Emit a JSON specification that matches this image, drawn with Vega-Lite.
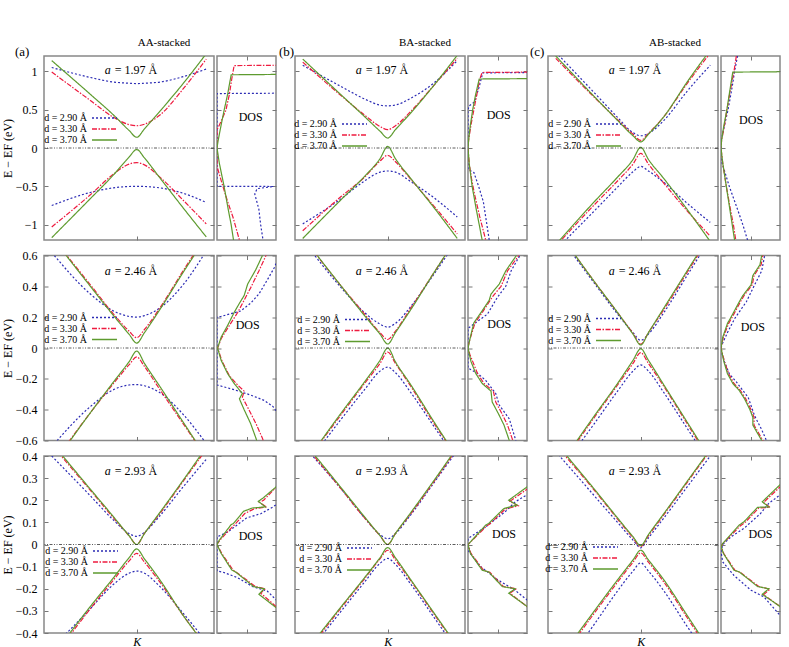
{
"$schema":"https://vega.github.io/schema/vega-lite/v6.json",
"padding":{"left":0,"top":36,"right":5,"bottom":3},
"config":{
 "view":{"stroke":"#888888","strokeWidth":1.5},
 "axis":{"domain":false,"grid":false,"tickSize":-4,"tickColor":"#777777","tickWidth":1,"labelPadding":11,"labelFont":"Liberation Serif","labelFontSize":12,"labelColor":"#000000","titleFont":"Liberation Serif","titleFontSize":12,"titleFontWeight":"normal","titleColor":"#000000"},
 "axisY":{"titlePadding":1},
 "title":{"font":"Liberation Serif","fontWeight":"normal","color":"#000000","fontSize":11},
 "text":{"font":"Liberation Serif","fontSize":12,"color":"#000000"},
 "legend":{"orient":"none","title":null,"symbolType":"M-2.5,0H2.5","symbolSize":100,"symbolStrokeWidth":1.3,"labelAlign":"right","labelOffset":-23.5,"labelFont":"Liberation Serif","labelFontSize":10,"labelColor":"#000000","rowPadding":-3,"padding":0}
},
"datasets":{
"bA1":[
{"d":"2.90","k":-1.1,"u":1.05,"l":-0.75},{"d":"2.90","k":-0.6,"u":0.92,"l":-0.58},{"d":"2.90","k":-0.3,"u":0.86,"l":-0.52},{"d":"2.90","k":-0.1,"u":0.845,"l":-0.502},{"d":"2.90","k":0,"u":0.84,"l":-0.5},{"d":"2.90","k":0.1,"u":0.845,"l":-0.502},{"d":"2.90","k":0.3,"u":0.86,"l":-0.52},{"d":"2.90","k":0.6,"u":0.93,"l":-0.59},{"d":"2.90","k":0.9,"u":1.03,"l":-0.71},
{"d":"3.30","k":-1.1,"u":0.99,"l":-1.03},{"d":"3.30","k":-0.6,"u":0.62,"l":-0.61},{"d":"3.30","k":-0.3,"u":0.4,"l":-0.34},{"d":"3.30","k":-0.1,"u":0.305,"l":-0.21},{"d":"3.30","k":0,"u":0.29,"l":-0.19},{"d":"3.30","k":0.1,"u":0.31,"l":-0.22},{"d":"3.30","k":0.3,"u":0.43,"l":-0.38},{"d":"3.30","k":0.6,"u":0.77,"l":-0.68},{"d":"3.30","k":0.9,"u":1.16,"l":-0.99},
{"d":"3.70","k":-1.1,"u":1.14,"l":-1.17},{"d":"3.70","k":-0.6,"u":0.7,"l":-0.66},{"d":"3.70","k":-0.3,"u":0.43,"l":-0.35},{"d":"3.70","k":-0.1,"u":0.23,"l":-0.12},{"d":"3.70","k":0,"u":0.14,"l":-0.02},{"d":"3.70","k":0.1,"u":0.25,"l":-0.13},{"d":"3.70","k":0.3,"u":0.48,"l":-0.39},{"d":"3.70","k":0.6,"u":0.84,"l":-0.78},{"d":"3.70","k":0.9,"u":1.23,"l":-1.16}
],
"bB1":[
{"d":"2.90","k":-1.1,"u":1.08,"l":-0.99},{"d":"2.90","k":-0.6,"u":0.8,"l":-0.66},{"d":"2.90","k":-0.3,"u":0.64,"l":-0.43},{"d":"2.90","k":-0.1,"u":0.56,"l":-0.315},{"d":"2.90","k":0,"u":0.55,"l":-0.3},{"d":"2.90","k":0.1,"u":0.56,"l":-0.315},{"d":"2.90","k":0.3,"u":0.65,"l":-0.44},{"d":"2.90","k":0.6,"u":0.85,"l":-0.65},{"d":"2.90","k":0.9,"u":1.14,"l":-0.9},
{"d":"3.30","k":-1.1,"u":1.12,"l":-1.08},{"d":"3.30","k":-0.6,"u":0.68,"l":-0.63},{"d":"3.30","k":-0.3,"u":0.43,"l":-0.38},{"d":"3.30","k":-0.1,"u":0.28,"l":-0.17},{"d":"3.30","k":0,"u":0.24,"l":-0.095},{"d":"3.30","k":0.1,"u":0.29,"l":-0.18},{"d":"3.30","k":0.3,"u":0.48,"l":-0.41},{"d":"3.30","k":0.6,"u":0.82,"l":-0.76},{"d":"3.30","k":0.9,"u":1.17,"l":-1.12},
{"d":"3.70","k":-1.1,"u":1.16,"l":-1.18},{"d":"3.70","k":-0.6,"u":0.69,"l":-0.67},{"d":"3.70","k":-0.3,"u":0.41,"l":-0.37},{"d":"3.70","k":-0.1,"u":0.22,"l":-0.14},{"d":"3.70","k":0,"u":0.13,"l":0.02},{"d":"3.70","k":0.1,"u":0.24,"l":-0.14},{"d":"3.70","k":0.3,"u":0.46,"l":-0.4},{"d":"3.70","k":0.6,"u":0.82,"l":-0.78},{"d":"3.70","k":0.9,"u":1.21,"l":-1.18}
],
"bC1":[
{"d":"2.90","k":-1.1,"u":1.25,"l":-1.33},{"d":"2.90","k":-0.6,"u":0.72,"l":-0.82},{"d":"2.90","k":-0.3,"u":0.4,"l":-0.51},{"d":"2.90","k":-0.1,"u":0.2,"l":-0.31},{"d":"2.90","k":0,"u":0.16,"l":-0.24},{"d":"2.90","k":0.1,"u":0.19,"l":-0.3},{"d":"2.90","k":0.3,"u":0.36,"l":-0.45},{"d":"2.90","k":0.6,"u":0.74,"l":-0.72},{"d":"2.90","k":0.9,"u":1.08,"l":-0.97},
{"d":"3.30","k":-1.1,"u":1.17,"l":-1.28},{"d":"3.30","k":-0.6,"u":0.66,"l":-0.74},{"d":"3.30","k":-0.3,"u":0.37,"l":-0.43},{"d":"3.30","k":-0.1,"u":0.18,"l":-0.21},{"d":"3.30","k":0,"u":0.1,"l":-0.07},{"d":"3.30","k":0.1,"u":0.19,"l":-0.21},{"d":"3.30","k":0.3,"u":0.41,"l":-0.46},{"d":"3.30","k":0.6,"u":0.84,"l":-0.82},{"d":"3.30","k":0.9,"u":1.24,"l":-1.15},
{"d":"3.70","k":-1.1,"u":1.2,"l":-1.26},{"d":"3.70","k":-0.6,"u":0.67,"l":-0.7},{"d":"3.70","k":-0.3,"u":0.36,"l":-0.38},{"d":"3.70","k":-0.1,"u":0.16,"l":-0.15},{"d":"3.70","k":0,"u":0.08,"l":0.01},{"d":"3.70","k":0.1,"u":0.18,"l":-0.15},{"d":"3.70","k":0.3,"u":0.41,"l":-0.4},{"d":"3.70","k":0.6,"u":0.86,"l":-0.8},{"d":"3.70","k":0.9,"u":1.28,"l":-1.22}
],
"bA2":[
{"d":"2.90","k":-1.1,"u":0.62,"l":-0.64},{"d":"2.90","k":-0.6,"u":0.35,"l":-0.38},{"d":"2.90","k":-0.3,"u":0.24,"l":-0.27},{"d":"2.90","k":-0.1,"u":0.205,"l":-0.24},{"d":"2.90","k":0,"u":0.2,"l":-0.237},{"d":"2.90","k":0.1,"u":0.21,"l":-0.245},{"d":"2.90","k":0.3,"u":0.26,"l":-0.29},{"d":"2.90","k":0.6,"u":0.41,"l":-0.43},{"d":"2.90","k":0.9,"u":0.63,"l":-0.62},
{"d":"3.30","k":-1.1,"u":0.72,"l":-0.76},{"d":"3.30","k":-0.6,"u":0.41,"l":-0.42},{"d":"3.30","k":-0.3,"u":0.22,"l":-0.23},{"d":"3.30","k":-0.1,"u":0.11,"l":-0.11},{"d":"3.30","k":0,"u":0.067,"l":-0.058},{"d":"3.30","k":0.1,"u":0.12,"l":-0.12},{"d":"3.30","k":0.3,"u":0.26,"l":-0.27},{"d":"3.30","k":0.6,"u":0.5,"l":-0.49},{"d":"3.30","k":0.9,"u":0.73,"l":-0.71},
{"d":"3.70","k":-1.1,"u":0.72,"l":-0.77},{"d":"3.70","k":-0.6,"u":0.4,"l":-0.42},{"d":"3.70","k":-0.3,"u":0.21,"l":-0.22},{"d":"3.70","k":-0.1,"u":0.09,"l":-0.09},{"d":"3.70","k":0,"u":0.032,"l":-0.02},{"d":"3.70","k":0.1,"u":0.1,"l":-0.1},{"d":"3.70","k":0.3,"u":0.25,"l":-0.25},{"d":"3.70","k":0.6,"u":0.49,"l":-0.48},{"d":"3.70","k":0.9,"u":0.72,"l":-0.71}
],
"bB2":[
{"d":"2.90","k":-1.1,"u":0.7,"l":-0.79},{"d":"2.90","k":-0.6,"u":0.39,"l":-0.46},{"d":"2.90","k":-0.3,"u":0.23,"l":-0.27},{"d":"2.90","k":-0.1,"u":0.155,"l":-0.15},{"d":"2.90","k":0,"u":0.135,"l":-0.124},{"d":"2.90","k":0.1,"u":0.16,"l":-0.16},{"d":"2.90","k":0.3,"u":0.27,"l":-0.29},{"d":"2.90","k":0.6,"u":0.48,"l":-0.51},{"d":"2.90","k":0.9,"u":0.7,"l":-0.73},
{"d":"3.30","k":-1.1,"u":0.72,"l":-0.77},{"d":"3.30","k":-0.6,"u":0.4,"l":-0.43},{"d":"3.30","k":-0.3,"u":0.22,"l":-0.23},{"d":"3.30","k":-0.1,"u":0.1,"l":-0.1},{"d":"3.30","k":0,"u":0.055,"l":-0.026},{"d":"3.30","k":0.1,"u":0.11,"l":-0.1},{"d":"3.30","k":0.3,"u":0.26,"l":-0.25},{"d":"3.30","k":0.6,"u":0.49,"l":-0.49},{"d":"3.30","k":0.9,"u":0.72,"l":-0.71},
{"d":"3.70","k":-1.1,"u":0.72,"l":-0.77},{"d":"3.70","k":-0.6,"u":0.4,"l":-0.42},{"d":"3.70","k":-0.3,"u":0.21,"l":-0.22},{"d":"3.70","k":-0.1,"u":0.09,"l":-0.08},{"d":"3.70","k":0,"u":0.026,"l":0},{"d":"3.70","k":0.1,"u":0.1,"l":-0.09},{"d":"3.70","k":0.3,"u":0.25,"l":-0.24},{"d":"3.70","k":0.6,"u":0.49,"l":-0.48},{"d":"3.70","k":0.9,"u":0.72,"l":-0.71}
],
"bC2":[
{"d":"2.90","k":-1.1,"u":0.76,"l":-0.83},{"d":"2.90","k":-0.6,"u":0.42,"l":-0.49},{"d":"2.90","k":-0.3,"u":0.22,"l":-0.28},{"d":"2.90","k":-0.1,"u":0.1,"l":-0.15},{"d":"2.90","k":0,"u":0.05,"l":-0.11},{"d":"2.90","k":0.1,"u":0.09,"l":-0.15},{"d":"2.90","k":0.3,"u":0.23,"l":-0.29},{"d":"2.90","k":0.6,"u":0.47,"l":-0.52},{"d":"2.90","k":0.9,"u":0.71,"l":-0.75},
{"d":"3.30","k":-1.1,"u":0.78,"l":-0.81},{"d":"3.30","k":-0.6,"u":0.43,"l":-0.45},{"d":"3.30","k":-0.3,"u":0.23,"l":-0.24},{"d":"3.30","k":-0.1,"u":0.095,"l":-0.1},{"d":"3.30","k":0,"u":0.025,"l":-0.03},{"d":"3.30","k":0.1,"u":0.1,"l":-0.1},{"d":"3.30","k":0.3,"u":0.25,"l":-0.25},{"d":"3.30","k":0.6,"u":0.49,"l":-0.49},{"d":"3.30","k":0.9,"u":0.73,"l":-0.73},
{"d":"3.70","k":-1.1,"u":0.78,"l":-0.8},{"d":"3.70","k":-0.6,"u":0.43,"l":-0.44},{"d":"3.70","k":-0.3,"u":0.23,"l":-0.23},{"d":"3.70","k":-0.1,"u":0.09,"l":-0.08},{"d":"3.70","k":0,"u":0.02,"l":-0.005},{"d":"3.70","k":0.1,"u":0.1,"l":-0.08},{"d":"3.70","k":0.3,"u":0.26,"l":-0.24},{"d":"3.70","k":0.6,"u":0.5,"l":-0.48},{"d":"3.70","k":0.9,"u":0.74,"l":-0.72}
],
"bA3":[
{"d":"2.90","k":-1.1,"u":0.4,"l":-0.47},{"d":"2.90","k":-0.6,"u":0.22,"l":-0.29},{"d":"2.90","k":-0.3,"u":0.11,"l":-0.18},{"d":"2.90","k":-0.1,"u":0.05,"l":-0.13},{"d":"2.90","k":0,"u":0.037,"l":-0.12},{"d":"2.90","k":0.1,"u":0.055,"l":-0.13},{"d":"2.90","k":0.3,"u":0.13,"l":-0.19},{"d":"2.90","k":0.6,"u":0.26,"l":-0.31},{"d":"2.90","k":0.9,"u":0.385,"l":-0.44},
{"d":"3.30","k":-1.1,"u":0.45,"l":-0.52},{"d":"3.30","k":-0.6,"u":0.245,"l":-0.29},{"d":"3.30","k":-0.3,"u":0.12,"l":-0.16},{"d":"3.30","k":-0.1,"u":0.04,"l":-0.075},{"d":"3.30","k":0,"u":0,"l":-0.04},{"d":"3.30","k":0.1,"u":0.05,"l":-0.08},{"d":"3.30","k":0.3,"u":0.14,"l":-0.17},{"d":"3.30","k":0.6,"u":0.285,"l":-0.32},{"d":"3.30","k":0.9,"u":0.43,"l":-0.46},
{"d":"3.70","k":-1.1,"u":0.46,"l":-0.51},{"d":"3.70","k":-0.6,"u":0.25,"l":-0.28},{"d":"3.70","k":-0.3,"u":0.125,"l":-0.15},{"d":"3.70","k":-0.1,"u":0.04,"l":-0.06},{"d":"3.70","k":0,"u":0,"l":-0.02},{"d":"3.70","k":0.1,"u":0.05,"l":-0.065},{"d":"3.70","k":0.3,"u":0.145,"l":-0.16},{"d":"3.70","k":0.6,"u":0.29,"l":-0.32},{"d":"3.70","k":0.9,"u":0.44,"l":-0.46}
],
"bB3":[
{"d":"2.90","k":-1.1,"u":0.45,"l":-0.52},{"d":"2.90","k":-0.6,"u":0.25,"l":-0.3},{"d":"2.90","k":-0.3,"u":0.12,"l":-0.17},{"d":"2.90","k":-0.1,"u":0.045,"l":-0.085},{"d":"2.90","k":0,"u":0.026,"l":-0.063},{"d":"2.90","k":0.1,"u":0.05,"l":-0.09},{"d":"2.90","k":0.3,"u":0.135,"l":-0.18},{"d":"2.90","k":0.6,"u":0.28,"l":-0.33},{"d":"2.90","k":0.9,"u":0.425,"l":-0.48},
{"d":"3.30","k":-1.1,"u":0.46,"l":-0.51},{"d":"3.30","k":-0.6,"u":0.25,"l":-0.285},{"d":"3.30","k":-0.3,"u":0.12,"l":-0.155},{"d":"3.30","k":-0.1,"u":0.04,"l":-0.065},{"d":"3.30","k":0,"u":0,"l":-0.026},{"d":"3.30","k":0.1,"u":0.05,"l":-0.07},{"d":"3.30","k":0.3,"u":0.14,"l":-0.165},{"d":"3.30","k":0.6,"u":0.285,"l":-0.315},{"d":"3.30","k":0.9,"u":0.435,"l":-0.465},
{"d":"3.70","k":-1.1,"u":0.47,"l":-0.5},{"d":"3.70","k":-0.6,"u":0.255,"l":-0.28},{"d":"3.70","k":-0.3,"u":0.125,"l":-0.15},{"d":"3.70","k":-0.1,"u":0.04,"l":-0.06},{"d":"3.70","k":0,"u":0,"l":-0.014},{"d":"3.70","k":0.1,"u":0.05,"l":-0.06},{"d":"3.70","k":0.3,"u":0.145,"l":-0.16},{"d":"3.70","k":0.6,"u":0.29,"l":-0.31},{"d":"3.70","k":0.9,"u":0.44,"l":-0.46}
],
"bC3":[
{"d":"2.90","k":-1.1,"u":0.42,"l":-0.6},{"d":"2.90","k":-0.6,"u":0.22,"l":-0.36},{"d":"2.90","k":-0.3,"u":0.1,"l":-0.21},{"d":"2.90","k":-0.1,"u":0.02,"l":-0.12},{"d":"2.90","k":0,"u":-0.015,"l":-0.083},{"d":"2.90","k":0.1,"u":0.03,"l":-0.12},{"d":"2.90","k":0.3,"u":0.12,"l":-0.21},{"d":"2.90","k":0.6,"u":0.26,"l":-0.37},{"d":"2.90","k":0.9,"u":0.4,"l":-0.52},
{"d":"3.30","k":-1.1,"u":0.45,"l":-0.55},{"d":"3.30","k":-0.6,"u":0.245,"l":-0.31},{"d":"3.30","k":-0.3,"u":0.115,"l":-0.17},{"d":"3.30","k":-0.1,"u":0.03,"l":-0.08},{"d":"3.30","k":0,"u":-0.01,"l":-0.038},{"d":"3.30","k":0.1,"u":0.04,"l":-0.08},{"d":"3.30","k":0.3,"u":0.135,"l":-0.17},{"d":"3.30","k":0.6,"u":0.28,"l":-0.33},{"d":"3.30","k":0.9,"u":0.425,"l":-0.49},
{"d":"3.70","k":-1.1,"u":0.46,"l":-0.54},{"d":"3.70","k":-0.6,"u":0.25,"l":-0.3},{"d":"3.70","k":-0.3,"u":0.12,"l":-0.16},{"d":"3.70","k":-0.1,"u":0.035,"l":-0.07},{"d":"3.70","k":0,"u":-0.005,"l":-0.026},{"d":"3.70","k":0.1,"u":0.045,"l":-0.07},{"d":"3.70","k":0.3,"u":0.14,"l":-0.16},{"d":"3.70","k":0.6,"u":0.285,"l":-0.32},{"d":"3.70","k":0.9,"u":0.43,"l":-0.48}
],
"dA1":[
{"d":"2.90","E":1.2,"x":1.08},{"d":"2.90","E":0.715,"x":1.08},{"d":"2.90","E":0.71,"x":0},{"d":"2.90","E":-0.5,"x":0},{"d":"2.90","E":-0.502,"x":0.96},{"d":"2.90","E":-0.53,"x":0.68},{"d":"2.90","E":-0.6,"x":0.64},{"d":"2.90","E":-0.8,"x":0.71},{"d":"2.90","E":-1.0,"x":0.74},{"d":"2.90","E":-1.2,"x":0.78},
{"d":"3.30","E":1.2,"x":1.08},{"d":"3.30","E":1.08,"x":1.08},{"d":"3.30","E":1.075,"x":0.29},{"d":"3.30","E":0.9,"x":0.25},{"d":"3.30","E":0.7,"x":0.21},{"d":"3.30","E":0.49,"x":0.15},{"d":"3.30","E":0.3,"x":0.04},{"d":"3.30","E":0.24,"x":0},{"d":"3.30","E":-0.24,"x":0},{"d":"3.30","E":-0.5,"x":0.1},{"d":"3.30","E":-0.7,"x":0.18},{"d":"3.30","E":-0.9,"x":0.27},{"d":"3.30","E":-1.2,"x":0.38},
{"d":"3.70","E":1.2,"x":1.08},{"d":"3.70","E":0.96,"x":1.08},{"d":"3.70","E":0.955,"x":0.24},{"d":"3.70","E":0.7,"x":0.18},{"d":"3.70","E":0.49,"x":0.12},{"d":"3.70","E":0.3,"x":0.07},{"d":"3.70","E":0.1,"x":0.02},{"d":"3.70","E":0,"x":0},{"d":"3.70","E":-0.2,"x":0.04},{"d":"3.70","E":-0.5,"x":0.12},{"d":"3.70","E":-0.8,"x":0.19},{"d":"3.70","E":-1.0,"x":0.24},{"d":"3.70","E":-1.2,"x":0.28}
],
"dB1":[
{"d":"2.90","E":1.2,"x":1.08},{"d":"2.90","E":0.985,"x":1.08},{"d":"2.90","E":0.98,"x":0.25},{"d":"2.90","E":0.8,"x":0.19},{"d":"2.90","E":0.6,"x":0.11},{"d":"2.90","E":0.55,"x":0.02},{"d":"2.90","E":0.5,"x":0},{"d":"2.90","E":-0.28,"x":0},{"d":"2.90","E":-0.32,"x":0.1},{"d":"2.90","E":-0.5,"x":0.18},{"d":"2.90","E":-0.7,"x":0.26},{"d":"2.90","E":-0.9,"x":0.3},{"d":"2.90","E":-1.2,"x":0.36},
{"d":"3.30","E":1.2,"x":1.08},{"d":"3.30","E":0.99,"x":1.08},{"d":"3.30","E":0.985,"x":0.24},{"d":"3.30","E":0.9,"x":0.2},{"d":"3.30","E":0.7,"x":0.15},{"d":"3.30","E":0.5,"x":0.1},{"d":"3.30","E":0.3,"x":0.05},{"d":"3.30","E":0.1,"x":0.01},{"d":"3.30","E":0,"x":0},{"d":"3.30","E":-0.2,"x":0.02},{"d":"3.30","E":-0.4,"x":0.06},{"d":"3.30","E":-0.6,"x":0.11},{"d":"3.30","E":-0.9,"x":0.2},{"d":"3.30","E":-1.2,"x":0.3},
{"d":"3.70","E":1.2,"x":1.08},{"d":"3.70","E":0.905,"x":1.08},{"d":"3.70","E":0.9,"x":0.19},{"d":"3.70","E":0.7,"x":0.13},{"d":"3.70","E":0.5,"x":0.08},{"d":"3.70","E":0.3,"x":0.04},{"d":"3.70","E":0.1,"x":0.01},{"d":"3.70","E":0,"x":0},{"d":"3.70","E":-0.2,"x":0.02},{"d":"3.70","E":-0.5,"x":0.07},{"d":"3.70","E":-0.8,"x":0.14},{"d":"3.70","E":-1.0,"x":0.19},{"d":"3.70","E":-1.2,"x":0.24}
],
"dC1":[
{"d":"2.90","E":1.2,"x":0.28},{"d":"2.90","E":1.0,"x":0.23},{"d":"2.90","E":0.8,"x":0.19},{"d":"2.90","E":0.5,"x":0.12},{"d":"2.90","E":0.3,"x":0.06},{"d":"2.90","E":0.15,"x":0.02},{"d":"2.90","E":0.1,"x":0},{"d":"2.90","E":-0.15,"x":0},{"d":"2.90","E":-0.3,"x":0.06},{"d":"2.90","E":-0.5,"x":0.14},{"d":"2.90","E":-0.8,"x":0.28},{"d":"2.90","E":-1.0,"x":0.37},{"d":"2.90","E":-1.2,"x":0.45},
{"d":"3.30","E":1.2,"x":0.26},{"d":"3.30","E":1.0,"x":0.22},{"d":"3.30","E":0.8,"x":0.17},{"d":"3.30","E":0.5,"x":0.1},{"d":"3.30","E":0.3,"x":0.06},{"d":"3.30","E":0.1,"x":0.01},{"d":"3.30","E":0,"x":0},{"d":"3.30","E":-0.2,"x":0.03},{"d":"3.30","E":-0.5,"x":0.09},{"d":"3.30","E":-0.8,"x":0.16},{"d":"3.30","E":-1.0,"x":0.21},{"d":"3.30","E":-1.2,"x":0.25},
{"d":"3.70","E":1.2,"x":1.08},{"d":"3.70","E":0.995,"x":1.08},{"d":"3.70","E":0.99,"x":0.2},{"d":"3.70","E":0.8,"x":0.16},{"d":"3.70","E":0.5,"x":0.1},{"d":"3.70","E":0.3,"x":0.05},{"d":"3.70","E":0.1,"x":0.01},{"d":"3.70","E":0,"x":0},{"d":"3.70","E":-0.2,"x":0.03},{"d":"3.70","E":-0.5,"x":0.09},{"d":"3.70","E":-0.8,"x":0.15},{"d":"3.70","E":-1.0,"x":0.19},{"d":"3.70","E":-1.2,"x":0.23}
],
"dA2":[
{"d":"2.90","E":0.62,"x":1.08},{"d":"2.90","E":0.52,"x":0.97},{"d":"2.90","E":0.44,"x":0.85},{"d":"2.90","E":0.35,"x":0.71},{"d":"2.90","E":0.29,"x":0.57},{"d":"2.90","E":0.24,"x":0.4},{"d":"2.90","E":0.205,"x":0.07},{"d":"2.90","E":0.2,"x":0},{"d":"2.90","E":-0.24,"x":0},{"d":"2.90","E":-0.27,"x":0.29},{"d":"2.90","E":-0.305,"x":0.57},{"d":"2.90","E":-0.34,"x":0.8},{"d":"2.90","E":-0.38,"x":0.95},{"d":"2.90","E":-0.45,"x":1.08},{"d":"2.90","E":-0.62,"x":1.1},
{"d":"3.30","E":0.62,"x":0.86},{"d":"3.30","E":0.6,"x":0.83},{"d":"3.30","E":0.5,"x":0.71},{"d":"3.30","E":0.39,"x":0.57},{"d":"3.30","E":0.31,"x":0.46},{"d":"3.30","E":0.23,"x":0.35},{"d":"3.30","E":0.146,"x":0.21},{"d":"3.30","E":0.06,"x":0.07},{"d":"3.30","E":0,"x":0.01},{"d":"3.30","E":-0.08,"x":0.08},{"d":"3.30","E":-0.18,"x":0.21},{"d":"3.30","E":-0.24,"x":0.35},{"d":"3.30","E":-0.28,"x":0.46},{"d":"3.30","E":-0.32,"x":0.43},{"d":"3.30","E":-0.4,"x":0.54},{"d":"3.30","E":-0.49,"x":0.66},{"d":"3.30","E":-0.585,"x":0.77},{"d":"3.30","E":-0.62,"x":0.8},
{"d":"3.70","E":0.62,"x":0.8},{"d":"3.70","E":0.6,"x":0.77},{"d":"3.70","E":0.51,"x":0.66},{"d":"3.70","E":0.415,"x":0.52},{"d":"3.70","E":0.34,"x":0.46},{"d":"3.70","E":0.29,"x":0.38},{"d":"3.70","E":0.23,"x":0.29},{"d":"3.70","E":0.146,"x":0.18},{"d":"3.70","E":0.07,"x":0.07},{"d":"3.70","E":0,"x":0.01},{"d":"3.70","E":-0.08,"x":0.07},{"d":"3.70","E":-0.166,"x":0.18},{"d":"3.70","E":-0.23,"x":0.29},{"d":"3.70","E":-0.295,"x":0.43},{"d":"3.70","E":-0.33,"x":0.38},{"d":"3.70","E":-0.4,"x":0.46},{"d":"3.70","E":-0.49,"x":0.57},{"d":"3.70","E":-0.585,"x":0.66},{"d":"3.70","E":-0.62,"x":0.69}
],
"dB2":[
{"d":"2.90","E":0.62,"x":0.9},{"d":"2.90","E":0.6,"x":0.88},{"d":"2.90","E":0.5,"x":0.73},{"d":"2.90","E":0.4,"x":0.64},{"d":"2.90","E":0.33,"x":0.5},{"d":"2.90","E":0.22,"x":0.33},{"d":"2.90","E":0.164,"x":0.13},{"d":"2.90","E":0.142,"x":0.05},{"d":"2.90","E":0.127,"x":0},{"d":"2.90","E":-0.13,"x":0},{"d":"2.90","E":-0.164,"x":0.16},{"d":"2.90","E":-0.21,"x":0.3},{"d":"2.90","E":-0.295,"x":0.47},{"d":"2.90","E":-0.37,"x":0.53},{"d":"2.90","E":-0.46,"x":0.7},{"d":"2.90","E":-0.6,"x":0.81},{"d":"2.90","E":-0.62,"x":0.83},
{"d":"3.30","E":0.62,"x":0.88},{"d":"3.30","E":0.6,"x":0.86},{"d":"3.30","E":0.5,"x":0.67},{"d":"3.30","E":0.4,"x":0.56},{"d":"3.30","E":0.34,"x":0.43},{"d":"3.30","E":0.23,"x":0.24},{"d":"3.30","E":0.164,"x":0.12},{"d":"3.30","E":0.04,"x":0.02},{"d":"3.30","E":0,"x":0},{"d":"3.30","E":-0.04,"x":0.03},{"d":"3.30","E":-0.164,"x":0.16},{"d":"3.30","E":-0.23,"x":0.27},{"d":"3.30","E":-0.28,"x":0.43},{"d":"3.30","E":-0.35,"x":0.47},{"d":"3.30","E":-0.437,"x":0.59},{"d":"3.30","E":-0.5,"x":0.67},{"d":"3.30","E":-0.6,"x":0.76},{"d":"3.30","E":-0.62,"x":0.78},
{"d":"3.70","E":0.62,"x":0.84},{"d":"3.70","E":0.6,"x":0.82},{"d":"3.70","E":0.5,"x":0.64},{"d":"3.70","E":0.415,"x":0.53},{"d":"3.70","E":0.35,"x":0.39},{"d":"3.70","E":0.31,"x":0.36},{"d":"3.70","E":0.23,"x":0.22},{"d":"3.70","E":0.164,"x":0.1},{"d":"3.70","E":0.087,"x":0.05},{"d":"3.70","E":0,"x":0},{"d":"3.70","E":-0.087,"x":0.05},{"d":"3.70","E":-0.164,"x":0.13},{"d":"3.70","E":-0.23,"x":0.24},{"d":"3.70","E":-0.28,"x":0.39},{"d":"3.70","E":-0.35,"x":0.41},{"d":"3.70","E":-0.437,"x":0.53},{"d":"3.70","E":-0.5,"x":0.61},{"d":"3.70","E":-0.6,"x":0.7},{"d":"3.70","E":-0.62,"x":0.72}
],
"dC2":[
{"d":"2.90","E":0.62,"x":0.76},{"d":"2.90","E":0.6,"x":0.74},{"d":"2.90","E":0.5,"x":0.69},{"d":"2.90","E":0.41,"x":0.57},{"d":"2.90","E":0.3,"x":0.43},{"d":"2.90","E":0.19,"x":0.23},{"d":"2.90","E":0.1,"x":0.11},{"d":"2.90","E":0.017,"x":0.01},{"d":"2.90","E":-0.015,"x":0},{"d":"2.90","E":-0.09,"x":0.06},{"d":"2.90","E":-0.167,"x":0.14},{"d":"2.90","E":-0.22,"x":0.26},{"d":"2.90","E":-0.32,"x":0.46},{"d":"2.90","E":-0.44,"x":0.57},{"d":"2.90","E":-0.53,"x":0.69},{"d":"2.90","E":-0.6,"x":0.77},{"d":"2.90","E":-0.62,"x":0.79},
{"d":"3.30","E":0.62,"x":0.73},{"d":"3.30","E":0.6,"x":0.71},{"d":"3.30","E":0.54,"x":0.68},{"d":"3.30","E":0.47,"x":0.56},{"d":"3.30","E":0.41,"x":0.53},{"d":"3.30","E":0.34,"x":0.39},{"d":"3.30","E":0.3,"x":0.33},{"d":"3.30","E":0.2,"x":0.19},{"d":"3.30","E":0.16,"x":0.13},{"d":"3.30","E":0.07,"x":0.04},{"d":"3.30","E":0,"x":0},{"d":"3.30","E":-0.09,"x":0.06},{"d":"3.30","E":-0.167,"x":0.13},{"d":"3.30","E":-0.23,"x":0.22},{"d":"3.30","E":-0.276,"x":0.33},{"d":"3.30","E":-0.33,"x":0.42},{"d":"3.30","E":-0.4,"x":0.51},{"d":"3.30","E":-0.45,"x":0.56},{"d":"3.30","E":-0.5,"x":0.56},{"d":"3.30","E":-0.56,"x":0.65},{"d":"3.30","E":-0.6,"x":0.71},{"d":"3.30","E":-0.62,"x":0.73},
{"d":"3.70","E":0.62,"x":0.71},{"d":"3.70","E":0.6,"x":0.69},{"d":"3.70","E":0.54,"x":0.66},{"d":"3.70","E":0.47,"x":0.54},{"d":"3.70","E":0.41,"x":0.51},{"d":"3.70","E":0.34,"x":0.37},{"d":"3.70","E":0.3,"x":0.31},{"d":"3.70","E":0.2,"x":0.17},{"d":"3.70","E":0.16,"x":0.11},{"d":"3.70","E":0.07,"x":0.03},{"d":"3.70","E":0,"x":0},{"d":"3.70","E":-0.09,"x":0.05},{"d":"3.70","E":-0.167,"x":0.11},{"d":"3.70","E":-0.23,"x":0.2},{"d":"3.70","E":-0.276,"x":0.31},{"d":"3.70","E":-0.33,"x":0.4},{"d":"3.70","E":-0.4,"x":0.49},{"d":"3.70","E":-0.45,"x":0.54},{"d":"3.70","E":-0.5,"x":0.54},{"d":"3.70","E":-0.56,"x":0.63},{"d":"3.70","E":-0.6,"x":0.69},{"d":"3.70","E":-0.62,"x":0.71}
],
"dA3":[
{"d":"2.90","E":0.19,"x":1.05},{"d":"2.90","E":0.17,"x":0.95},{"d":"2.90","E":0.14,"x":0.75},{"d":"2.90","E":0.12,"x":0.5},{"d":"2.90","E":0.06,"x":0.2},{"d":"2.90","E":0.04,"x":0.05},{"d":"2.90","E":0.035,"x":0},{"d":"2.90","E":-0.12,"x":0},{"d":"2.90","E":-0.125,"x":0.1},{"d":"2.90","E":-0.15,"x":0.35},{"d":"2.90","E":-0.19,"x":0.6},{"d":"2.90","E":-0.21,"x":0.85},{"d":"2.90","E":-0.25,"x":1.0},{"d":"2.90","E":-0.26,"x":1.05},
{"d":"3.30","E":0.27,"x":1.05},{"d":"3.30","E":0.25,"x":0.97},{"d":"3.30","E":0.2,"x":0.79},{"d":"3.30","E":0.19,"x":0.72},{"d":"3.30","E":0.17,"x":0.84},{"d":"3.30","E":0.16,"x":0.62},{"d":"3.30","E":0.14,"x":0.47},{"d":"3.30","E":0.09,"x":0.3},{"d":"3.30","E":0.08,"x":0.26},{"d":"3.30","E":0.02,"x":0.05},{"d":"3.30","E":0,"x":0},{"d":"3.30","E":-0.04,"x":0.08},{"d":"3.30","E":-0.115,"x":0.27},{"d":"3.30","E":-0.13,"x":0.35},{"d":"3.30","E":-0.19,"x":0.65},{"d":"3.30","E":-0.2,"x":0.82},{"d":"3.30","E":-0.22,"x":0.74},{"d":"3.30","E":-0.28,"x":1.0},{"d":"3.30","E":-0.29,"x":1.03},
{"d":"3.70","E":0.29,"x":1.05},{"d":"3.70","E":0.26,"x":1.0},{"d":"3.70","E":0.21,"x":0.78},{"d":"3.70","E":0.195,"x":0.7},{"d":"3.70","E":0.17,"x":0.82},{"d":"3.70","E":0.165,"x":0.6},{"d":"3.70","E":0.15,"x":0.45},{"d":"3.70","E":0.095,"x":0.28},{"d":"3.70","E":0.09,"x":0.24},{"d":"3.70","E":0.02,"x":0.04},{"d":"3.70","E":0,"x":0},{"d":"3.70","E":-0.04,"x":0.07},{"d":"3.70","E":-0.115,"x":0.25},{"d":"3.70","E":-0.125,"x":0.32},{"d":"3.70","E":-0.19,"x":0.62},{"d":"3.70","E":-0.2,"x":0.8},{"d":"3.70","E":-0.225,"x":0.71},{"d":"3.70","E":-0.285,"x":1.0},{"d":"3.70","E":-0.29,"x":1.03}
],
"dB3":[
{"d":"2.90","E":0.23,"x":1.03},{"d":"2.90","E":0.224,"x":1.0},{"d":"2.90","E":0.193,"x":0.8},{"d":"2.90","E":0.148,"x":0.63},{"d":"2.90","E":0.08,"x":0.3},{"d":"2.90","E":0.035,"x":0.045},{"d":"2.90","E":0.027,"x":0},{"d":"2.90","E":-0.026,"x":0},{"d":"2.90","E":-0.094,"x":0.19},{"d":"2.90","E":-0.154,"x":0.47},{"d":"2.90","E":-0.207,"x":0.8},{"d":"2.90","E":-0.25,"x":1.0},{"d":"2.90","E":-0.26,"x":1.03},
{"d":"3.30","E":0.26,"x":1.03},{"d":"3.30","E":0.25,"x":1.0},{"d":"3.30","E":0.195,"x":0.71},{"d":"3.30","E":0.175,"x":0.85},{"d":"3.30","E":0.16,"x":0.63},{"d":"3.30","E":0.093,"x":0.37},{"d":"3.30","E":0.085,"x":0.32},{"d":"3.30","E":0.005,"x":0.02},{"d":"3.30","E":0,"x":0},{"d":"3.30","E":-0.04,"x":0.05},{"d":"3.30","E":-0.116,"x":0.26},{"d":"3.30","E":-0.126,"x":0.37},{"d":"3.30","E":-0.19,"x":0.6},{"d":"3.30","E":-0.2,"x":0.82},{"d":"3.30","E":-0.22,"x":0.71},{"d":"3.30","E":-0.28,"x":1.0},{"d":"3.30","E":-0.29,"x":1.03},
{"d":"3.70","E":0.27,"x":1.03},{"d":"3.70","E":0.26,"x":1.0},{"d":"3.70","E":0.2,"x":0.69},{"d":"3.70","E":0.178,"x":0.83},{"d":"3.70","E":0.163,"x":0.61},{"d":"3.70","E":0.095,"x":0.35},{"d":"3.70","E":0.088,"x":0.3},{"d":"3.70","E":0.005,"x":0.02},{"d":"3.70","E":0,"x":0},{"d":"3.70","E":-0.04,"x":0.04},{"d":"3.70","E":-0.116,"x":0.24},{"d":"3.70","E":-0.124,"x":0.35},{"d":"3.70","E":-0.19,"x":0.58},{"d":"3.70","E":-0.2,"x":0.8},{"d":"3.70","E":-0.22,"x":0.69},{"d":"3.70","E":-0.28,"x":1.0},{"d":"3.70","E":-0.29,"x":1.03}
],
"dC3":[
{"d":"2.90","E":0.23,"x":1.03},{"d":"2.90","E":0.224,"x":1.0},{"d":"2.90","E":0.186,"x":0.81},{"d":"2.90","E":0.14,"x":0.67},{"d":"2.90","E":0.073,"x":0.39},{"d":"2.90","E":0.035,"x":0.17},{"d":"2.90","E":0,"x":0.03},{"d":"2.90","E":-0.033,"x":0},{"d":"2.90","E":-0.079,"x":0.03},{"d":"2.90","E":-0.14,"x":0.22},{"d":"2.90","E":-0.207,"x":0.51},{"d":"2.90","E":-0.237,"x":0.73},{"d":"2.90","E":-0.32,"x":1.0},{"d":"2.90","E":-0.33,"x":1.03},
{"d":"3.30","E":0.27,"x":1.03},{"d":"3.30","E":0.26,"x":1.0},{"d":"3.30","E":0.19,"x":0.72},{"d":"3.30","E":0.168,"x":0.83},{"d":"3.30","E":0.165,"x":0.64},{"d":"3.30","E":0.1,"x":0.41},{"d":"3.30","E":0.085,"x":0.33},{"d":"3.30","E":0.004,"x":0.03},{"d":"3.30","E":-0.01,"x":0},{"d":"3.30","E":-0.042,"x":0.05},{"d":"3.30","E":-0.118,"x":0.24},{"d":"3.30","E":-0.126,"x":0.33},{"d":"3.30","E":-0.19,"x":0.64},{"d":"3.30","E":-0.202,"x":0.83},{"d":"3.30","E":-0.227,"x":0.72},{"d":"3.30","E":-0.28,"x":1.0},{"d":"3.30","E":-0.29,"x":1.03},
{"d":"3.70","E":0.28,"x":1.03},{"d":"3.70","E":0.27,"x":1.0},{"d":"3.70","E":0.193,"x":0.7},{"d":"3.70","E":0.17,"x":0.81},{"d":"3.70","E":0.168,"x":0.62},{"d":"3.70","E":0.103,"x":0.39},{"d":"3.70","E":0.088,"x":0.31},{"d":"3.70","E":0.005,"x":0.03},{"d":"3.70","E":-0.008,"x":0},{"d":"3.70","E":-0.04,"x":0.04},{"d":"3.70","E":-0.116,"x":0.22},{"d":"3.70","E":-0.124,"x":0.31},{"d":"3.70","E":-0.19,"x":0.62},{"d":"3.70","E":-0.2,"x":0.81},{"d":"3.70","E":-0.225,"x":0.7},{"d":"3.70","E":-0.28,"x":1.0},{"d":"3.70","E":-0.29,"x":1.03}
]
},
"bounds":"flush",
"align":"each",
"columns":9,
"spacing":{"row":15.5,"column":3},
"resolve":{"legend":{"color":"independent","strokeDash":"independent"}},
"concat":[
{"width":26,"height":184,"view":{"stroke":null},"data":{"values":[{}]},"mark":{"type":"text"},"encoding":{"text":{"value":""}},"title":{"text":"(a)","anchor":"start","frame":"group","offset":-13,"baseline":"alphabetic","fontSize":13}},
{"width":170,"height":184,"title":{"text":"AA-stacked","anchor":"middle","frame":"group","dx":35,"offset":-1,"baseline":"alphabetic"},
 "layer":[
  {"data":{"name":"bA1"},"mark":{"type":"line","clip":true,"strokeWidth":1.2,"interpolate":"monotone"},
   "encoding":{"x":{"field":"k","type":"quantitative","title":null,"scale":{"domain":[-1.1,0.9]},"axis":{"values":[0],"labels":false}},
    "y":{"field":"u","type":"quantitative","title":"E − EF (eV)","scale":{"domain":[-1.2,1.2]},"axis":{"values":[-1,-0.5,0,0.5,1],"format":"~g"}},
    "color":{"field":"d","type":"nominal","scale":{"domain":["2.90","3.30","3.70"],"range":["#2c2cb4","#ee1b3f","#5e9b2f"]},"legend":{"legendX":54.5,"legendY":56,"labelExpr":"'d = ' + datum.label + ' Å'"}},
    "strokeDash":{"field":"d","type":"nominal","scale":{"domain":["2.90","3.30","3.70"],"range":[[2,2],[5,1.5,1.5,1.5],[1,0]]},"legend":{"legendX":54.5,"legendY":56,"labelExpr":"'d = ' + datum.label + ' Å'"}}}},
  {"data":{"name":"bA1"},"mark":{"type":"line","clip":true,"strokeWidth":1.2,"interpolate":"monotone"},
   "encoding":{"x":{"field":"k","type":"quantitative","title":null},"y":{"field":"l","type":"quantitative","title":null,"axis":null},"color":{"field":"d","type":"nominal"},"strokeDash":{"field":"d","type":"nominal"}}},
  {"data":{"values":[{}]},"mark":{"type":"rule","color":"#333333","strokeWidth":0.8,"strokeDash":[3,1.5,1,1.5,1,1.5]},
   "encoding":{"y":{"datum":0,"type":"quantitative","axis":{"orient":"right","values":[-1,-0.5,0,0.5,1],"labels":false,"title":null}}}},
  {"data":{"values":[{}]},"mark":{"type":"text","fontStyle":"italic","align":"right","baseline":"alphabetic","dx":-2},
   "encoding":{"x":{"datum":-0.31},"y":{"datum":0.97,"axis":null},"text":{"value":"a"}}},
  {"data":{"values":[{}]},"mark":{"type":"text","align":"left","baseline":"alphabetic","dx":2},
   "encoding":{"x":{"datum":-0.31},"y":{"datum":0.97,"axis":null},"text":{"value":"= 1.97 Å"}}}
 ],"resolve":{"axis":{"y":"independent"}}},
{"width":59,"height":184,
 "layer":[
  {"data":{"name":"dA1"},"mark":{"type":"line","clip":true,"strokeWidth":1.2},
   "encoding":{"x":{"field":"x","type":"quantitative","title":null,"scale":{"domain":[0,1]},"axis":{"values":[0.5],"labels":false}},
    "y":{"field":"E","type":"quantitative","title":null,"scale":{"domain":[-1.2,1.2]},"axis":{"values":[-1,-0.5,0,0.5,1],"labels":false}},
    "order":{"field":"E","sort":"descending"},
    "color":{"field":"d","type":"nominal","scale":{"domain":["2.90","3.30","3.70"],"range":["#2c2cb4","#ee1b3f","#5e9b2f"]},"legend":null},
    "strokeDash":{"field":"d","type":"nominal","scale":{"domain":["2.90","3.30","3.70"],"range":[[2,2],[5,1.5,1.5,1.5],[1,0]]},"legend":null}}},
  {"data":{"values":[{}]},"mark":{"type":"text"},
   "encoding":{"x":{"datum":0.57,"axis":{"orient":"top","values":[0.5],"labels":false,"title":null}},"y":{"datum":0.41,"axis":{"orient":"right","values":[-1,-0.5,0,0.5,1],"labels":false,"title":null}},"text":{"value":"DOS"}}}
 ],"resolve":{"axis":{"x":"independent","y":"independent"}}},
{"width":13,"height":184,"view":{"stroke":null},"data":{"values":[{}]},"mark":{"type":"text"},"encoding":{"text":{"value":""}},"title":{"text":"(b)","anchor":"start","frame":"group","offset":-13,"baseline":"alphabetic","fontSize":13}},
{"width":170,"height":184,"title":{"text":"BA-stacked","anchor":"middle","frame":"group","dx":45,"offset":-1,"baseline":"alphabetic"},
 "layer":[
  {"data":{"name":"bB1"},"mark":{"type":"line","clip":true,"strokeWidth":1.2,"interpolate":"monotone"},
   "encoding":{"x":{"field":"k","type":"quantitative","title":null,"scale":{"domain":[-1.1,0.9]},"axis":{"values":[0],"labels":false}},
    "y":{"field":"u","type":"quantitative","title":null,"scale":{"domain":[-1.2,1.2]},"axis":{"values":[-1,-0.5,0,0.5,1],"labels":false}},
    "color":{"field":"d","type":"nominal","scale":{"domain":["2.90","3.30","3.70"],"range":["#2c2cb4","#ee1b3f","#5e9b2f"]},"legend":{"legendX":53.5,"legendY":62,"labelExpr":"'d = ' + datum.label + ' Å'"}},
    "strokeDash":{"field":"d","type":"nominal","scale":{"domain":["2.90","3.30","3.70"],"range":[[2,2],[5,1.5,1.5,1.5],[1,0]]},"legend":{"legendX":53.5,"legendY":62,"labelExpr":"'d = ' + datum.label + ' Å'"}}}},
  {"data":{"name":"bB1"},"mark":{"type":"line","clip":true,"strokeWidth":1.2,"interpolate":"monotone"},
   "encoding":{"x":{"field":"k","type":"quantitative","title":null},"y":{"field":"l","type":"quantitative","title":null,"axis":null},"color":{"field":"d","type":"nominal"},"strokeDash":{"field":"d","type":"nominal"}}},
  {"data":{"values":[{}]},"mark":{"type":"rule","color":"#333333","strokeWidth":0.8,"strokeDash":[3,1.5,1,1.5,1,1.5]},
   "encoding":{"y":{"datum":0,"type":"quantitative","axis":{"orient":"right","values":[-1,-0.5,0,0.5,1],"labels":false,"title":null}}}},
  {"data":{"values":[{}]},"mark":{"type":"text","fontStyle":"italic","align":"right","baseline":"alphabetic","dx":-2},
   "encoding":{"x":{"datum":-0.31},"y":{"datum":0.97,"axis":null},"text":{"value":"a"}}},
  {"data":{"values":[{}]},"mark":{"type":"text","align":"left","baseline":"alphabetic","dx":2},
   "encoding":{"x":{"datum":-0.31},"y":{"datum":0.97,"axis":null},"text":{"value":"= 1.97 Å"}}}
 ],"resolve":{"axis":{"y":"independent"}}},
{"width":59,"height":184,
 "layer":[
  {"data":{"name":"dB1"},"mark":{"type":"line","clip":true,"strokeWidth":1.2},
   "encoding":{"x":{"field":"x","type":"quantitative","title":null,"scale":{"domain":[0,1]},"axis":{"values":[0.5],"labels":false}},
    "y":{"field":"E","type":"quantitative","title":null,"scale":{"domain":[-1.2,1.2]},"axis":{"values":[-1,-0.5,0,0.5,1],"labels":false}},
    "order":{"field":"E","sort":"descending"},
    "color":{"field":"d","type":"nominal","scale":{"domain":["2.90","3.30","3.70"],"range":["#2c2cb4","#ee1b3f","#5e9b2f"]},"legend":null},
    "strokeDash":{"field":"d","type":"nominal","scale":{"domain":["2.90","3.30","3.70"],"range":[[2,2],[5,1.5,1.5,1.5],[1,0]]},"legend":null}}},
  {"data":{"values":[{}]},"mark":{"type":"text"},
   "encoding":{"x":{"datum":0.52,"axis":{"orient":"top","values":[0.5],"labels":false,"title":null}},"y":{"datum":0.43,"axis":{"orient":"right","values":[-1,-0.5,0,0.5,1],"labels":false,"title":null}},"text":{"value":"DOS"}}}
 ],"resolve":{"axis":{"x":"independent","y":"independent"}}},
{"width":15,"height":184,"view":{"stroke":null},"data":{"values":[{}]},"mark":{"type":"text"},"encoding":{"text":{"value":""}},"title":{"text":"(c)","anchor":"start","frame":"group","offset":-13,"baseline":"alphabetic","fontSize":13}},
{"width":170,"height":184,"title":{"text":"AB-stacked","anchor":"middle","frame":"group","dx":42,"offset":-1,"baseline":"alphabetic"},
 "layer":[
  {"data":{"name":"bC1"},"mark":{"type":"line","clip":true,"strokeWidth":1.2,"interpolate":"monotone"},
   "encoding":{"x":{"field":"k","type":"quantitative","title":null,"scale":{"domain":[-1.1,0.9]},"axis":{"values":[0],"labels":false}},
    "y":{"field":"u","type":"quantitative","title":null,"scale":{"domain":[-1.2,1.2]},"axis":{"values":[-1,-0.5,0,0.5,1],"labels":false}},
    "color":{"field":"d","type":"nominal","scale":{"domain":["2.90","3.30","3.70"],"range":["#2c2cb4","#ee1b3f","#5e9b2f"]},"legend":{"legendX":54.5,"legendY":62,"labelExpr":"'d = ' + datum.label + ' Å'"}},
    "strokeDash":{"field":"d","type":"nominal","scale":{"domain":["2.90","3.30","3.70"],"range":[[2,2],[5,1.5,1.5,1.5],[1,0]]},"legend":{"legendX":54.5,"legendY":62,"labelExpr":"'d = ' + datum.label + ' Å'"}}}},
  {"data":{"name":"bC1"},"mark":{"type":"line","clip":true,"strokeWidth":1.2,"interpolate":"monotone"},
   "encoding":{"x":{"field":"k","type":"quantitative","title":null},"y":{"field":"l","type":"quantitative","title":null,"axis":null},"color":{"field":"d","type":"nominal"},"strokeDash":{"field":"d","type":"nominal"}}},
  {"data":{"values":[{}]},"mark":{"type":"rule","color":"#333333","strokeWidth":0.8,"strokeDash":[3,1.5,1,1.5,1,1.5]},
   "encoding":{"y":{"datum":0,"type":"quantitative","axis":{"orient":"right","values":[-1,-0.5,0,0.5,1],"labels":false,"title":null}}}},
  {"data":{"values":[{}]},"mark":{"type":"text","fontStyle":"italic","align":"right","baseline":"alphabetic","dx":-2},
   "encoding":{"x":{"datum":-0.31},"y":{"datum":0.97,"axis":null},"text":{"value":"a"}}},
  {"data":{"values":[{}]},"mark":{"type":"text","align":"left","baseline":"alphabetic","dx":2},
   "encoding":{"x":{"datum":-0.31},"y":{"datum":0.97,"axis":null},"text":{"value":"= 1.97 Å"}}}
 ],"resolve":{"axis":{"y":"independent"}}},
{"width":59,"height":184,
 "layer":[
  {"data":{"name":"dC1"},"mark":{"type":"line","clip":true,"strokeWidth":1.2},
   "encoding":{"x":{"field":"x","type":"quantitative","title":null,"scale":{"domain":[0,1]},"axis":{"values":[0.5],"labels":false}},
    "y":{"field":"E","type":"quantitative","title":null,"scale":{"domain":[-1.2,1.2]},"axis":{"values":[-1,-0.5,0,0.5,1],"labels":false}},
    "order":{"field":"E","sort":"descending"},
    "color":{"field":"d","type":"nominal","scale":{"domain":["2.90","3.30","3.70"],"range":["#2c2cb4","#ee1b3f","#5e9b2f"]},"legend":null},
    "strokeDash":{"field":"d","type":"nominal","scale":{"domain":["2.90","3.30","3.70"],"range":[[2,2],[5,1.5,1.5,1.5],[1,0]]},"legend":null}}},
  {"data":{"values":[{}]},"mark":{"type":"text"},
   "encoding":{"x":{"datum":0.51,"axis":{"orient":"top","values":[0.5],"labels":false,"title":null}},"y":{"datum":0.36,"axis":{"orient":"right","values":[-1,-0.5,0,0.5,1],"labels":false,"title":null}},"text":{"value":"DOS"}}}
 ],"resolve":{"axis":{"x":"independent","y":"independent"}}},

{"width":26,"height":185,"view":{"stroke":null},"data":{"values":[{}]},"mark":{"type":"text"},"encoding":{"text":{"value":""}}},
{"width":170,"height":185,
 "layer":[
  {"data":{"name":"bA2"},"mark":{"type":"line","clip":true,"strokeWidth":1.2,"interpolate":"monotone"},
   "encoding":{"x":{"field":"k","type":"quantitative","title":null,"scale":{"domain":[-1.1,0.9]},"axis":{"values":[0],"labels":false}},
    "y":{"field":"u","type":"quantitative","title":"E − EF (eV)","scale":{"domain":[-0.6,0.6]},"axis":{"values":[-0.6,-0.4,-0.2,0,0.2,0.4,0.6],"format":"~g"}},
    "color":{"field":"d","type":"nominal","scale":{"domain":["2.90","3.30","3.70"],"range":["#2c2cb4","#ee1b3f","#5e9b2f"]},"legend":{"legendX":54.5,"legendY":56,"labelExpr":"'d = ' + datum.label + ' Å'"}},
    "strokeDash":{"field":"d","type":"nominal","scale":{"domain":["2.90","3.30","3.70"],"range":[[2,2],[5,1.5,1.5,1.5],[1,0]]},"legend":{"legendX":54.5,"legendY":56,"labelExpr":"'d = ' + datum.label + ' Å'"}}}},
  {"data":{"name":"bA2"},"mark":{"type":"line","clip":true,"strokeWidth":1.2,"interpolate":"monotone"},
   "encoding":{"x":{"field":"k","type":"quantitative","title":null},"y":{"field":"l","type":"quantitative","title":null,"axis":null},"color":{"field":"d","type":"nominal"},"strokeDash":{"field":"d","type":"nominal"}}},
  {"data":{"values":[{}]},"mark":{"type":"rule","color":"#333333","strokeWidth":0.8,"strokeDash":[3,1.5,1,1.5,1,1.5]},
   "encoding":{"y":{"datum":0,"type":"quantitative","axis":{"orient":"right","values":[-0.6,-0.4,-0.2,0,0.2,0.4,0.6],"labels":false,"title":null}}}},
  {"data":{"values":[{}]},"mark":{"type":"text","fontStyle":"italic","align":"right","baseline":"alphabetic","dx":-2},
   "encoding":{"x":{"datum":-0.31},"y":{"datum":0.475,"axis":null},"text":{"value":"a"}}},
  {"data":{"values":[{}]},"mark":{"type":"text","align":"left","baseline":"alphabetic","dx":2},
   "encoding":{"x":{"datum":-0.31},"y":{"datum":0.475,"axis":null},"text":{"value":"= 2.46 Å"}}}
 ],"resolve":{"axis":{"y":"independent"}}},
{"width":59,"height":185,
 "layer":[
  {"data":{"name":"dA2"},"mark":{"type":"line","clip":true,"strokeWidth":1.2},
   "encoding":{"x":{"field":"x","type":"quantitative","title":null,"scale":{"domain":[0,1]},"axis":{"values":[0.5],"labels":false}},
    "y":{"field":"E","type":"quantitative","title":null,"scale":{"domain":[-0.6,0.6]},"axis":{"values":[-0.6,-0.4,-0.2,0,0.2,0.4,0.6],"labels":false}},
    "order":{"field":"E","sort":"descending"},
    "color":{"field":"d","type":"nominal","scale":{"domain":["2.90","3.30","3.70"],"range":["#2c2cb4","#ee1b3f","#5e9b2f"]},"legend":null},
    "strokeDash":{"field":"d","type":"nominal","scale":{"domain":["2.90","3.30","3.70"],"range":[[2,2],[5,1.5,1.5,1.5],[1,0]]},"legend":null}}},
  {"data":{"values":[{}]},"mark":{"type":"text"},
   "encoding":{"x":{"datum":0.52,"axis":{"orient":"top","values":[0.5],"labels":false,"title":null}},"y":{"datum":0.146,"axis":{"orient":"right","values":[-0.6,-0.4,-0.2,0,0.2,0.4,0.6],"labels":false,"title":null}},"text":{"value":"DOS"}}}
 ],"resolve":{"axis":{"x":"independent","y":"independent"}}},
{"width":13,"height":185,"view":{"stroke":null},"data":{"values":[{}]},"mark":{"type":"text"},"encoding":{"text":{"value":""}}},
{"width":170,"height":185,
 "layer":[
  {"data":{"name":"bB2"},"mark":{"type":"line","clip":true,"strokeWidth":1.2,"interpolate":"monotone"},
   "encoding":{"x":{"field":"k","type":"quantitative","title":null,"scale":{"domain":[-1.1,0.9]},"axis":{"values":[0],"labels":false}},
    "y":{"field":"u","type":"quantitative","title":null,"scale":{"domain":[-0.6,0.6]},"axis":{"values":[-0.6,-0.4,-0.2,0,0.2,0.4,0.6],"labels":false}},
    "color":{"field":"d","type":"nominal","scale":{"domain":["2.90","3.30","3.70"],"range":["#2c2cb4","#ee1b3f","#5e9b2f"]},"legend":{"legendX":56.5,"legendY":58,"labelExpr":"'d = ' + datum.label + ' Å'"}},
    "strokeDash":{"field":"d","type":"nominal","scale":{"domain":["2.90","3.30","3.70"],"range":[[2,2],[5,1.5,1.5,1.5],[1,0]]},"legend":{"legendX":56.5,"legendY":58,"labelExpr":"'d = ' + datum.label + ' Å'"}}}},
  {"data":{"name":"bB2"},"mark":{"type":"line","clip":true,"strokeWidth":1.2,"interpolate":"monotone"},
   "encoding":{"x":{"field":"k","type":"quantitative","title":null},"y":{"field":"l","type":"quantitative","title":null,"axis":null},"color":{"field":"d","type":"nominal"},"strokeDash":{"field":"d","type":"nominal"}}},
  {"data":{"values":[{}]},"mark":{"type":"rule","color":"#333333","strokeWidth":0.8,"strokeDash":[3,1.5,1,1.5,1,1.5]},
   "encoding":{"y":{"datum":0,"type":"quantitative","axis":{"orient":"right","values":[-0.6,-0.4,-0.2,0,0.2,0.4,0.6],"labels":false,"title":null}}}},
  {"data":{"values":[{}]},"mark":{"type":"text","fontStyle":"italic","align":"right","baseline":"alphabetic","dx":-2},
   "encoding":{"x":{"datum":-0.31},"y":{"datum":0.475,"axis":null},"text":{"value":"a"}}},
  {"data":{"values":[{}]},"mark":{"type":"text","align":"left","baseline":"alphabetic","dx":2},
   "encoding":{"x":{"datum":-0.31},"y":{"datum":0.475,"axis":null},"text":{"value":"= 2.46 Å"}}}
 ],"resolve":{"axis":{"y":"independent"}}},
{"width":59,"height":185,
 "layer":[
  {"data":{"name":"dB2"},"mark":{"type":"line","clip":true,"strokeWidth":1.2},
   "encoding":{"x":{"field":"x","type":"quantitative","title":null,"scale":{"domain":[0,1]},"axis":{"values":[0.5],"labels":false}},
    "y":{"field":"E","type":"quantitative","title":null,"scale":{"domain":[-0.6,0.6]},"axis":{"values":[-0.6,-0.4,-0.2,0,0.2,0.4,0.6],"labels":false}},
    "order":{"field":"E","sort":"descending"},
    "color":{"field":"d","type":"nominal","scale":{"domain":["2.90","3.30","3.70"],"range":["#2c2cb4","#ee1b3f","#5e9b2f"]},"legend":null},
    "strokeDash":{"field":"d","type":"nominal","scale":{"domain":["2.90","3.30","3.70"],"range":[[2,2],[5,1.5,1.5,1.5],[1,0]]},"legend":null}}},
  {"data":{"values":[{}]},"mark":{"type":"text"},
   "encoding":{"x":{"datum":0.53,"axis":{"orient":"top","values":[0.5],"labels":false,"title":null}},"y":{"datum":0.153,"axis":{"orient":"right","values":[-0.6,-0.4,-0.2,0,0.2,0.4,0.6],"labels":false,"title":null}},"text":{"value":"DOS"}}}
 ],"resolve":{"axis":{"x":"independent","y":"independent"}}},
{"width":15,"height":185,"view":{"stroke":null},"data":{"values":[{}]},"mark":{"type":"text"},"encoding":{"text":{"value":""}}},
{"width":170,"height":185,
 "layer":[
  {"data":{"name":"bC2"},"mark":{"type":"line","clip":true,"strokeWidth":1.2,"interpolate":"monotone"},
   "encoding":{"x":{"field":"k","type":"quantitative","title":null,"scale":{"domain":[-1.1,0.9]},"axis":{"values":[0],"labels":false}},
    "y":{"field":"u","type":"quantitative","title":null,"scale":{"domain":[-0.6,0.6]},"axis":{"values":[-0.6,-0.4,-0.2,0,0.2,0.4,0.6],"labels":false}},
    "color":{"field":"d","type":"nominal","scale":{"domain":["2.90","3.30","3.70"],"range":["#2c2cb4","#ee1b3f","#5e9b2f"]},"legend":{"legendX":54.5,"legendY":57,"labelExpr":"'d = ' + datum.label + ' Å'"}},
    "strokeDash":{"field":"d","type":"nominal","scale":{"domain":["2.90","3.30","3.70"],"range":[[2,2],[5,1.5,1.5,1.5],[1,0]]},"legend":{"legendX":54.5,"legendY":57,"labelExpr":"'d = ' + datum.label + ' Å'"}}}},
  {"data":{"name":"bC2"},"mark":{"type":"line","clip":true,"strokeWidth":1.2,"interpolate":"monotone"},
   "encoding":{"x":{"field":"k","type":"quantitative","title":null},"y":{"field":"l","type":"quantitative","title":null,"axis":null},"color":{"field":"d","type":"nominal"},"strokeDash":{"field":"d","type":"nominal"}}},
  {"data":{"values":[{}]},"mark":{"type":"rule","color":"#333333","strokeWidth":0.8,"strokeDash":[3,1.5,1,1.5,1,1.5]},
   "encoding":{"y":{"datum":0,"type":"quantitative","axis":{"orient":"right","values":[-0.6,-0.4,-0.2,0,0.2,0.4,0.6],"labels":false,"title":null}}}},
  {"data":{"values":[{}]},"mark":{"type":"text","fontStyle":"italic","align":"right","baseline":"alphabetic","dx":-2},
   "encoding":{"x":{"datum":-0.31},"y":{"datum":0.475,"axis":null},"text":{"value":"a"}}},
  {"data":{"values":[{}]},"mark":{"type":"text","align":"left","baseline":"alphabetic","dx":2},
   "encoding":{"x":{"datum":-0.31},"y":{"datum":0.475,"axis":null},"text":{"value":"= 2.46 Å"}}}
 ],"resolve":{"axis":{"y":"independent"}}},
{"width":59,"height":185,
 "layer":[
  {"data":{"name":"dC2"},"mark":{"type":"line","clip":true,"strokeWidth":1.2},
   "encoding":{"x":{"field":"x","type":"quantitative","title":null,"scale":{"domain":[0,1]},"axis":{"values":[0.5],"labels":false}},
    "y":{"field":"E","type":"quantitative","title":null,"scale":{"domain":[-0.6,0.6]},"axis":{"values":[-0.6,-0.4,-0.2,0,0.2,0.4,0.6],"labels":false}},
    "order":{"field":"E","sort":"descending"},
    "color":{"field":"d","type":"nominal","scale":{"domain":["2.90","3.30","3.70"],"range":["#2c2cb4","#ee1b3f","#5e9b2f"]},"legend":null},
    "strokeDash":{"field":"d","type":"nominal","scale":{"domain":["2.90","3.30","3.70"],"range":[[2,2],[5,1.5,1.5,1.5],[1,0]]},"legend":null}}},
  {"data":{"values":[{}]},"mark":{"type":"text"},
   "encoding":{"x":{"datum":0.54,"axis":{"orient":"top","values":[0.5],"labels":false,"title":null}},"y":{"datum":0.137,"axis":{"orient":"right","values":[-0.6,-0.4,-0.2,0,0.2,0.4,0.6],"labels":false,"title":null}},"text":{"value":"DOS"}}}
 ],"resolve":{"axis":{"x":"independent","y":"independent"}}},

{"width":26,"height":177,"view":{"stroke":null},"data":{"values":[{}]},"mark":{"type":"text"},"encoding":{"text":{"value":""}}},
{"width":170,"height":177,
 "layer":[
  {"data":{"name":"bA3"},"mark":{"type":"line","clip":true,"strokeWidth":1.2,"interpolate":"monotone"},
   "encoding":{"x":{"field":"k","type":"quantitative","title":null,"scale":{"domain":[-1.1,0.9]},"axis":{"values":[0],"labelExpr":"'K'","labelFontStyle":"italic","labelPadding":7}},
    "y":{"field":"u","type":"quantitative","title":"E − EF (eV)","scale":{"domain":[-0.4,0.4]},"axis":{"values":[-0.4,-0.3,-0.2,-0.1,0,0.1,0.2,0.3,0.4],"format":"~g"}},
    "color":{"field":"d","type":"nominal","scale":{"domain":["2.90","3.30","3.70"],"range":["#2c2cb4","#ee1b3f","#5e9b2f"]},"legend":{"legendX":55.5,"legendY":89,"labelExpr":"'d = ' + datum.label + ' Å'"}},
    "strokeDash":{"field":"d","type":"nominal","scale":{"domain":["2.90","3.30","3.70"],"range":[[2,2],[5,1.5,1.5,1.5],[1,0]]},"legend":{"legendX":55.5,"legendY":89,"labelExpr":"'d = ' + datum.label + ' Å'"}}}},
  {"data":{"name":"bA3"},"mark":{"type":"line","clip":true,"strokeWidth":1.2,"interpolate":"monotone"},
   "encoding":{"x":{"field":"k","type":"quantitative","title":null},"y":{"field":"l","type":"quantitative","title":null,"axis":null},"color":{"field":"d","type":"nominal"},"strokeDash":{"field":"d","type":"nominal"}}},
  {"data":{"values":[{}]},"mark":{"type":"rule","color":"#333333","strokeWidth":0.8,"strokeDash":[3,1.5,1,1.5,1,1.5]},
   "encoding":{"y":{"datum":0,"type":"quantitative","axis":{"orient":"right","values":[-0.4,-0.3,-0.2,-0.1,0,0.1,0.2,0.3,0.4],"labels":false,"title":null}}}},
  {"data":{"values":[{}]},"mark":{"type":"text","fontStyle":"italic","align":"right","baseline":"alphabetic","dx":-2},
   "encoding":{"x":{"datum":-0.31},"y":{"datum":0.315,"axis":null},"text":{"value":"a"}}},
  {"data":{"values":[{}]},"mark":{"type":"text","align":"left","baseline":"alphabetic","dx":2},
   "encoding":{"x":{"datum":-0.31},"y":{"datum":0.315,"axis":null},"text":{"value":"= 2.93 Å"}}}
 ],"resolve":{"axis":{"y":"independent"}}},
{"width":59,"height":177,
 "layer":[
  {"data":{"name":"dA3"},"mark":{"type":"line","clip":true,"strokeWidth":1.2},
   "encoding":{"x":{"field":"x","type":"quantitative","title":null,"scale":{"domain":[0,1]},"axis":{"values":[0.5],"labels":false}},
    "y":{"field":"E","type":"quantitative","title":null,"scale":{"domain":[-0.4,0.4]},"axis":{"values":[-0.4,-0.3,-0.2,-0.1,0,0.1,0.2,0.3,0.4],"labels":false}},
    "order":{"field":"E","sort":"descending"},
    "color":{"field":"d","type":"nominal","scale":{"domain":["2.90","3.30","3.70"],"range":["#2c2cb4","#ee1b3f","#5e9b2f"]},"legend":null},
    "strokeDash":{"field":"d","type":"nominal","scale":{"domain":["2.90","3.30","3.70"],"range":[[2,2],[5,1.5,1.5,1.5],[1,0]]},"legend":null}}},
  {"data":{"values":[{}]},"mark":{"type":"text"},
   "encoding":{"x":{"datum":0.57,"axis":{"orient":"top","values":[0.5],"labels":false,"title":null}},"y":{"datum":0.037,"axis":{"orient":"right","values":[-0.4,-0.3,-0.2,-0.1,0,0.1,0.2,0.3,0.4],"labels":false,"title":null}},"text":{"value":"DOS"}}}
 ],"resolve":{"axis":{"x":"independent","y":"independent"}}},
{"width":13,"height":177,"view":{"stroke":null},"data":{"values":[{}]},"mark":{"type":"text"},"encoding":{"text":{"value":""}}},
{"width":170,"height":177,
 "layer":[
  {"data":{"name":"bB3"},"mark":{"type":"line","clip":true,"strokeWidth":1.2,"interpolate":"monotone"},
   "encoding":{"x":{"field":"k","type":"quantitative","title":null,"scale":{"domain":[-1.1,0.9]},"axis":{"values":[0],"labelExpr":"'K'","labelFontStyle":"italic","labelPadding":7}},
    "y":{"field":"u","type":"quantitative","title":null,"scale":{"domain":[-0.4,0.4]},"axis":{"values":[-0.4,-0.3,-0.2,-0.1,0,0.1,0.2,0.3,0.4],"labels":false}},
    "color":{"field":"d","type":"nominal","scale":{"domain":["2.90","3.30","3.70"],"range":["#2c2cb4","#ee1b3f","#5e9b2f"]},"legend":{"legendX":58.5,"legendY":86,"labelExpr":"'d = ' + datum.label + ' Å'"}},
    "strokeDash":{"field":"d","type":"nominal","scale":{"domain":["2.90","3.30","3.70"],"range":[[2,2],[5,1.5,1.5,1.5],[1,0]]},"legend":{"legendX":58.5,"legendY":86,"labelExpr":"'d = ' + datum.label + ' Å'"}}}},
  {"data":{"name":"bB3"},"mark":{"type":"line","clip":true,"strokeWidth":1.2,"interpolate":"monotone"},
   "encoding":{"x":{"field":"k","type":"quantitative","title":null},"y":{"field":"l","type":"quantitative","title":null,"axis":null},"color":{"field":"d","type":"nominal"},"strokeDash":{"field":"d","type":"nominal"}}},
  {"data":{"values":[{}]},"mark":{"type":"rule","color":"#333333","strokeWidth":0.8,"strokeDash":[3,1.5,1,1.5,1,1.5]},
   "encoding":{"y":{"datum":0,"type":"quantitative","axis":{"orient":"right","values":[-0.4,-0.3,-0.2,-0.1,0,0.1,0.2,0.3,0.4],"labels":false,"title":null}}}},
  {"data":{"values":[{}]},"mark":{"type":"text","fontStyle":"italic","align":"right","baseline":"alphabetic","dx":-2},
   "encoding":{"x":{"datum":-0.31},"y":{"datum":0.315,"axis":null},"text":{"value":"a"}}},
  {"data":{"values":[{}]},"mark":{"type":"text","align":"left","baseline":"alphabetic","dx":2},
   "encoding":{"x":{"datum":-0.31},"y":{"datum":0.315,"axis":null},"text":{"value":"= 2.93 Å"}}}
 ],"resolve":{"axis":{"y":"independent"}}},
{"width":59,"height":177,
 "layer":[
  {"data":{"name":"dB3"},"mark":{"type":"line","clip":true,"strokeWidth":1.2},
   "encoding":{"x":{"field":"x","type":"quantitative","title":null,"scale":{"domain":[0,1]},"axis":{"values":[0.5],"labels":false}},
    "y":{"field":"E","type":"quantitative","title":null,"scale":{"domain":[-0.4,0.4]},"axis":{"values":[-0.4,-0.3,-0.2,-0.1,0,0.1,0.2,0.3,0.4],"labels":false}},
    "order":{"field":"E","sort":"descending"},
    "color":{"field":"d","type":"nominal","scale":{"domain":["2.90","3.30","3.70"],"range":["#2c2cb4","#ee1b3f","#5e9b2f"]},"legend":null},
    "strokeDash":{"field":"d","type":"nominal","scale":{"domain":["2.90","3.30","3.70"],"range":[[2,2],[5,1.5,1.5,1.5],[1,0]]},"legend":null}}},
  {"data":{"values":[{}]},"mark":{"type":"text"},
   "encoding":{"x":{"datum":0.61,"axis":{"orient":"top","values":[0.5],"labels":false,"title":null}},"y":{"datum":0.047,"axis":{"orient":"right","values":[-0.4,-0.3,-0.2,-0.1,0,0.1,0.2,0.3,0.4],"labels":false,"title":null}},"text":{"value":"DOS"}}}
 ],"resolve":{"axis":{"x":"independent","y":"independent"}}},
{"width":15,"height":177,"view":{"stroke":null},"data":{"values":[{}]},"mark":{"type":"text"},"encoding":{"text":{"value":""}}},
{"width":170,"height":177,
 "layer":[
  {"data":{"name":"bC3"},"mark":{"type":"line","clip":true,"strokeWidth":1.2,"interpolate":"monotone"},
   "encoding":{"x":{"field":"k","type":"quantitative","title":null,"scale":{"domain":[-1.1,0.9]},"axis":{"values":[0],"labelExpr":"'K'","labelFontStyle":"italic","labelPadding":7}},
    "y":{"field":"u","type":"quantitative","title":null,"scale":{"domain":[-0.4,0.4]},"axis":{"values":[-0.4,-0.3,-0.2,-0.1,0,0.1,0.2,0.3,0.4],"labels":false}},
    "color":{"field":"d","type":"nominal","scale":{"domain":["2.90","3.30","3.70"],"range":["#2c2cb4","#ee1b3f","#5e9b2f"]},"legend":{"legendX":51.5,"legendY":85,"labelExpr":"'d = ' + datum.label + ' Å'"}},
    "strokeDash":{"field":"d","type":"nominal","scale":{"domain":["2.90","3.30","3.70"],"range":[[2,2],[5,1.5,1.5,1.5],[1,0]]},"legend":{"legendX":51.5,"legendY":85,"labelExpr":"'d = ' + datum.label + ' Å'"}}}},
  {"data":{"name":"bC3"},"mark":{"type":"line","clip":true,"strokeWidth":1.2,"interpolate":"monotone"},
   "encoding":{"x":{"field":"k","type":"quantitative","title":null},"y":{"field":"l","type":"quantitative","title":null,"axis":null},"color":{"field":"d","type":"nominal"},"strokeDash":{"field":"d","type":"nominal"}}},
  {"data":{"values":[{}]},"mark":{"type":"rule","color":"#333333","strokeWidth":0.8,"strokeDash":[3,1.5,1,1.5,1,1.5]},
   "encoding":{"y":{"datum":0,"type":"quantitative","axis":{"orient":"right","values":[-0.4,-0.3,-0.2,-0.1,0,0.1,0.2,0.3,0.4],"labels":false,"title":null}}}},
  {"data":{"values":[{}]},"mark":{"type":"text","fontStyle":"italic","align":"right","baseline":"alphabetic","dx":-2},
   "encoding":{"x":{"datum":-0.31},"y":{"datum":0.315,"axis":null},"text":{"value":"a"}}},
  {"data":{"values":[{}]},"mark":{"type":"text","align":"left","baseline":"alphabetic","dx":2},
   "encoding":{"x":{"datum":-0.31},"y":{"datum":0.315,"axis":null},"text":{"value":"= 2.93 Å"}}}
 ],"resolve":{"axis":{"y":"independent"}}},
{"width":59,"height":177,
 "layer":[
  {"data":{"name":"dC3"},"mark":{"type":"line","clip":true,"strokeWidth":1.2},
   "encoding":{"x":{"field":"x","type":"quantitative","title":null,"scale":{"domain":[0,1]},"axis":{"values":[0.5],"labels":false}},
    "y":{"field":"E","type":"quantitative","title":null,"scale":{"domain":[-0.4,0.4]},"axis":{"values":[-0.4,-0.3,-0.2,-0.1,0,0.1,0.2,0.3,0.4],"labels":false}},
    "order":{"field":"E","sort":"descending"},
    "color":{"field":"d","type":"nominal","scale":{"domain":["2.90","3.30","3.70"],"range":["#2c2cb4","#ee1b3f","#5e9b2f"]},"legend":null},
    "strokeDash":{"field":"d","type":"nominal","scale":{"domain":["2.90","3.30","3.70"],"range":[[2,2],[5,1.5,1.5,1.5],[1,0]]},"legend":null}}},
  {"data":{"values":[{}]},"mark":{"type":"text"},
   "encoding":{"x":{"datum":0.67,"axis":{"orient":"top","values":[0.5],"labels":false,"title":null}},"y":{"datum":0.047,"axis":{"orient":"right","values":[-0.4,-0.3,-0.2,-0.1,0,0.1,0.2,0.3,0.4],"labels":false,"title":null}},"text":{"value":"DOS"}}}
 ],"resolve":{"axis":{"x":"independent","y":"independent"}}}
]
}
